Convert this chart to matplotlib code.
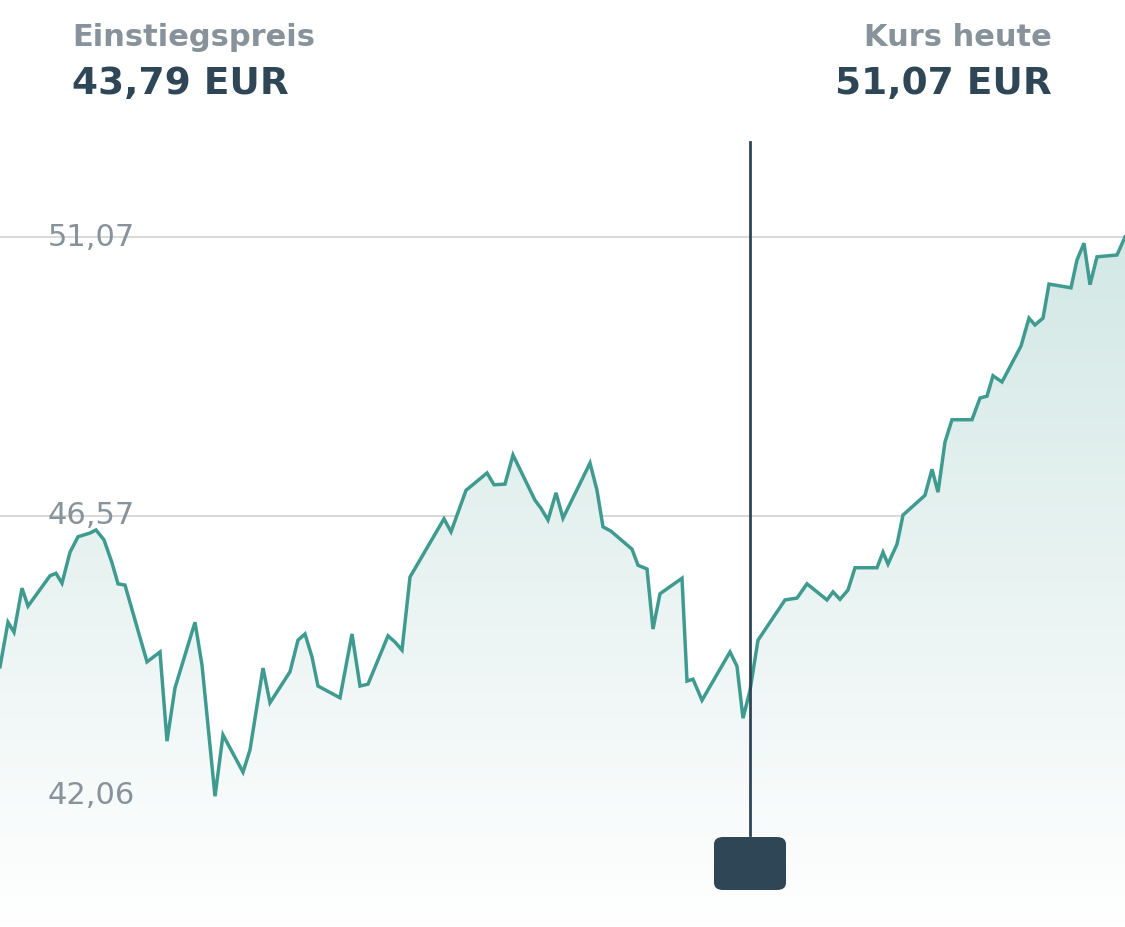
import matplotlib.pyplot as plt
import numpy as np
from matplotlib.patches import FancyBboxPatch

# day positions and closing prices (EUR)
days = [0, 8, 14, 22, 28, 50, 56, 62, 70, 78, 90, 96, 104, 112, 118, 125, 147, 160, 167, 175,
        195, 202, 215, 223, 243, 250, 263, 270, 290, 298, 305, 312, 318, 340, 352, 360, 368, 388,
        395, 402, 410, 444, 451, 466, 487, 494, 505, 513, 535, 541, 548, 556, 563, 590, 597, 603,
        611, 632, 638, 647, 653, 660, 682, 687, 693, 702, 730, 737, 743, 750, 758, 785, 797, 807,
        827, 833, 840, 848, 855, 877, 883, 888, 897, 903, 925, 932, 938, 945, 952, 972, 980, 987,
        993, 1002, 1021, 1029, 1035, 1043, 1049, 1071, 1077, 1084, 1090, 1097, 1117, 1125]
prices = [44.13, 44.85, 44.69, 45.40, 45.11, 45.60, 45.64, 45.48, 45.98, 46.23, 46.29, 46.34,
          46.18, 45.81, 45.47, 45.45, 44.21, 44.37, 42.93, 43.79, 44.85, 44.16, 42.04, 43.03,
          42.43, 42.79, 44.11, 43.55, 44.05, 44.56, 44.66, 44.29, 43.82, 43.63, 44.66, 43.82,
          43.85, 44.63, 44.53, 44.40, 45.58, 46.52, 46.31, 46.98, 47.26, 47.07, 47.08, 47.55,
          46.82, 46.69, 46.50, 46.94, 46.53, 47.42, 46.98, 46.39, 46.32, 46.03, 45.77, 45.71,
          44.74, 45.31, 45.56, 43.90, 43.93, 43.59, 44.37, 44.14, 43.30, 43.75, 44.56, 45.21,
          45.24, 45.47, 45.21, 45.34, 45.22, 45.37, 45.73, 45.73, 45.98, 45.79, 46.11, 46.58,
          46.90, 47.32, 46.95, 47.76, 48.12, 48.12, 48.47, 48.50, 48.83, 48.73, 49.31, 49.76,
          49.65, 49.76, 50.31, 50.25, 50.70, 50.97, 50.30, 50.75, 50.78, 51.07]
ticks = [42.06, 46.57, 51.07]
tick_labels = ['42,06', '46,57', '51,07']
buy_day = 750

line_c = '#3f9a90'
dark = '#2f4656'
grey = '#87929a'

fig = plt.figure(figsize=(11.25, 9.27), dpi=100)
ax = fig.add_axes([0, 0, 1, 1])
ax.set_xlim(0, 1125)
ylo, yhi = 39.929, 54.897
ax.set_ylim(ylo, yhi)
ax.axis('off')

for t, lab in zip(ticks, tick_labels):
    ax.axhline(t, color='#d3d6d8', lw=1.3, zorder=1)
    ax.text(48, t, lab, fontsize=22, color=grey, va='center', ha='left', zorder=2)

# gradient fill under the line
grad = np.linspace(0, 1, 256).reshape(-1, 1)
img = ax.imshow(grad, extent=[0, 1125, ylo, max(prices)], origin='lower', aspect='auto',
                cmap=plt.matplotlib.colors.LinearSegmentedColormap.from_list('g', ['#ffffff', '#d3e8e5']),
                zorder=1.5)
poly = ax.fill_between(days, prices, ylo, color='none')
img.set_clip_path(poly.get_paths()[0], transform=ax.transData)

ax.plot(days, prices, color=line_c, lw=2.5, zorder=3, solid_joinstyle='miter')

# buy marker
y_top = yhi - 142 * 0.016147
y_box = yhi - 835 * 0.016147
ax.plot([buy_day, buy_day], [y_box, y_top], color=dark, lw=2, zorder=4)
box = FancyBboxPatch((714 / 1125, 37 / 927), 72 / 1125, 53 / 927, transform=fig.transFigure,
                     boxstyle='round,pad=0,rounding_size=0.008', fc=dark, ec='none', zorder=5)
fig.patches.append(box)
fig.text(750 / 1125, 63 / 927, 'B', color='white', fontsize=19, fontweight='bold',
         ha='center', va='center')

fig.text(72 / 1125, 1 - 38 / 927, 'Einstiegspreis', fontsize=22, fontweight='bold', color=grey, va='center')
fig.text(72 / 1125, 1 - 84 / 927, '43,79 EUR', fontsize=27, fontweight='bold', color=dark, va='center')
fig.text(1052 / 1125, 1 - 38 / 927, 'Kurs heute', fontsize=22, fontweight='bold', color=grey, va='center', ha='right')
fig.text(1052 / 1125, 1 - 84 / 927, '51,07 EUR', fontsize=27, fontweight='bold', color=dark, va='center', ha='right')

fig.savefig('out.png', dpi=100)
